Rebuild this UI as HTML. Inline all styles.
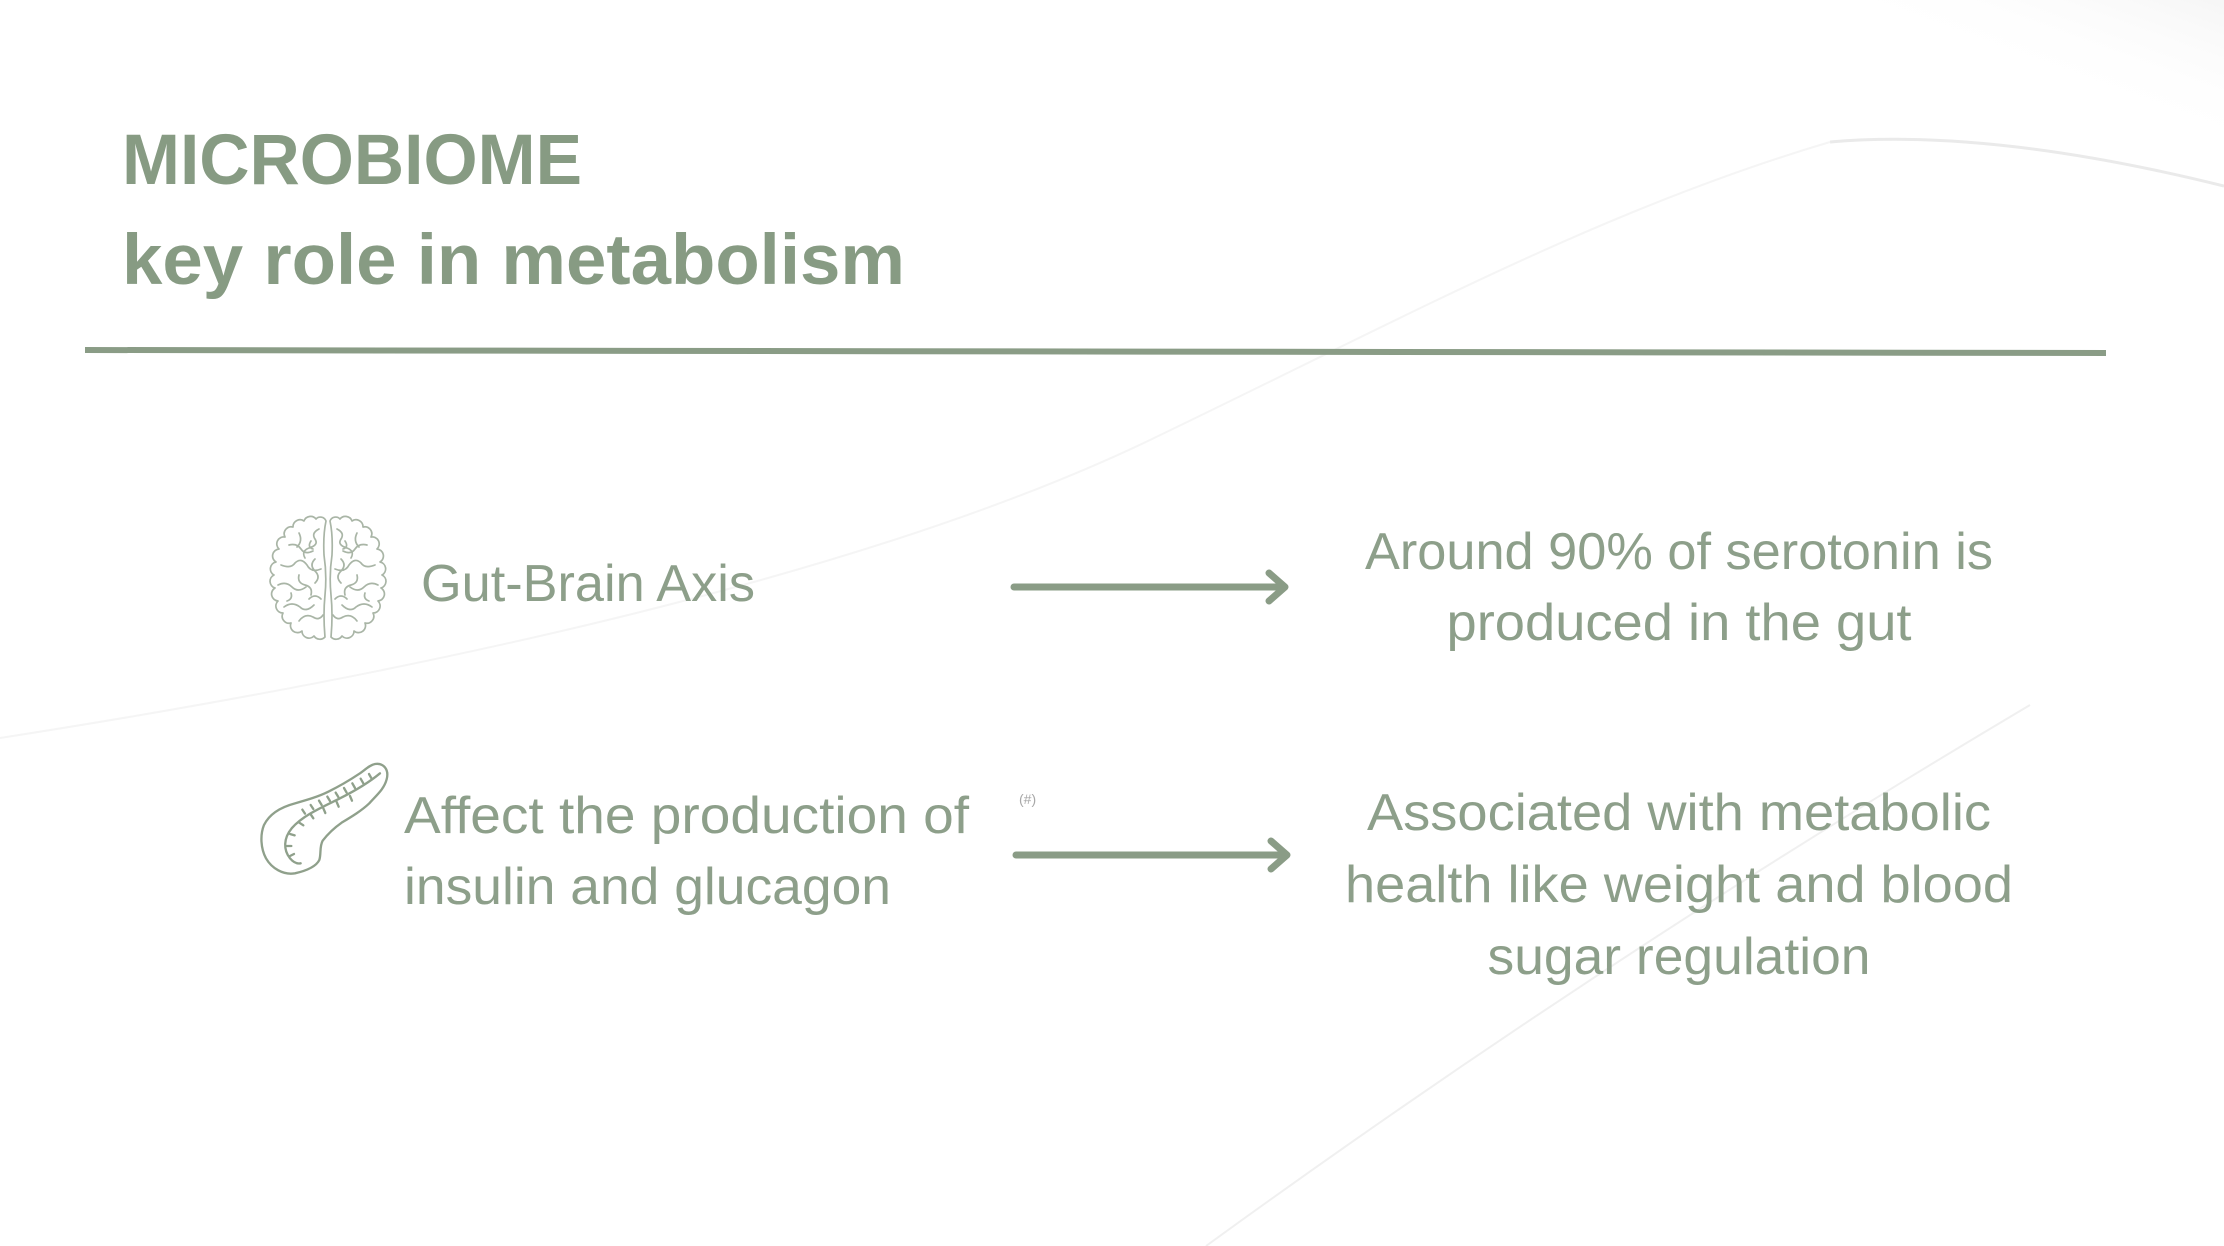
<!DOCTYPE html>
<html>
<head>
<meta charset="utf-8">
<style>
  html,body{margin:0;padding:0;background:#ffffff;}
  body{width:2224px;height:1246px;overflow:hidden;}
  svg{display:block;}
</style>
</head>
<body>
<svg width="2224" height="1246" viewBox="0 0 2224 1246" xmlns="http://www.w3.org/2000/svg">
  <defs>
    <linearGradient id="corner" x1="1" y1="0" x2="0.6" y2="0.4">
      <stop offset="0" stop-color="#ececec"/>
      <stop offset="1" stop-color="#ffffff" stop-opacity="0"/>
    </linearGradient>
    <g id="hemi" fill="none" stroke="#a9b5a6" stroke-width="1.7" stroke-linecap="round" stroke-linejoin="round">
      <path d="M55,6 A6,6 0 0 0 45,4 A7,7 0 0 0 33,6 A7,7 0 0 0 22,12 A7,7 0 0 0 14,22 A7,7 0 0 0 8,34 A7,7 0 0 0 5,47 A7,7 0 0 0 3,60 A7,7 0 0 0 4,73 A7,7 0 0 0 7,86 A7,7 0 0 0 12,98 A7,7 0 0 0 20,108 A7,7 0 0 0 31,116 A7,7 0 0 0 43,121 A7,7 0 0 0 54,122 Q52,100 54,80 Q56,60 53,40 Q52,20 55,6 Z"/>
      <path d="M48,14 q-8,4 -4,10 q4,6 -6,9 q-8,3 -4,10"/>
      <path d="M18,30 q8,-2 12,4 q4,6 12,2"/>
      <path d="M10,50 q10,4 14,-2 q6,-6 12,2 q4,8 14,4"/>
      <path d="M7,70 q8,-4 14,2 q6,6 14,0"/>
      <path d="M28,60 q-2,8 6,10 q8,2 6,10"/>
      <path d="M13,92 q8,-6 16,0 q6,6 14,-2"/>
      <path d="M28,106 q6,-8 14,-4 q6,4 10,-2"/>
      <path d="M38,84 q6,-6 12,0"/>
      <path d="M44,44 q-6,6 0,12 q6,6 0,12"/>
      <path d="M28,18 q4,8 -2,14"/>
      <path d="M20,78 q2,6 -4,8"/>
      <path d="M40,26 q-4,6 2,8"/>
    </g>
  </defs>

  <!-- faint background decoration -->
  <path d="M1700,0 L2224,0 L2224,190 Q2050,120 1820,150 Q1760,60 1700,0 Z" fill="url(#corner)" opacity="0.5"/>
  <path d="M1830,142 Q1990,128 2224,186" fill="none" stroke="#eaeaea" stroke-width="3"/>
  <path d="M0,738 C500,660 900,560 1150,440 C1400,320 1600,210 1830,142" fill="none" stroke="#f5f5f5" stroke-width="2"/>
  <path d="M1206,1246 Q1600,960 2030,705" fill="none" stroke="#f0f0f0" stroke-width="2"/>

  <!-- Title -->
  <text x="122" y="184" font-family="'Liberation Sans', sans-serif" font-weight="bold" font-size="71" fill="#879b83" textLength="460" lengthAdjust="spacingAndGlyphs">MICROBIOME</text>
  <text x="122" y="284" font-family="'Liberation Sans', sans-serif" font-weight="bold" font-size="71" fill="#879b83" textLength="783" lengthAdjust="spacingAndGlyphs">key role in metabolism</text>

  <!-- rule -->
  <line x1="85" y1="350" x2="2106" y2="353" stroke="#8a9c86" stroke-width="6"/>

  <!-- Brain icon -->
  <g transform="translate(271,515)">
    <use href="#hemi"/>
    <use href="#hemi" transform="translate(114,0) scale(-1,1)"/>
  </g>

  <!-- Pancreas icon -->
  <g transform="translate(240,750) scale(0.3333)" fill="none" stroke="#8fa08b" stroke-width="7" stroke-linecap="round" stroke-linejoin="round">
    <path d="M405,42 C430,38 448,58 440,88 C432,118 410,135 388,160 C365,182 335,200 305,218 C285,232 265,250 248,272 C238,290 244,312 238,330 C228,350 200,362 165,370 C130,376 95,355 78,325 C62,295 60,255 72,225 C88,192 120,172 165,160 C200,150 235,140 265,125 C300,108 330,90 360,70 C378,57 390,45 405,42 Z"/>
    <path d="M420,70 C390,95 350,120 300,145 C250,170 190,195 155,235 C130,265 130,300 150,325 C160,337 172,342 182,340"/>
    <path d="M395,86 l-8,-14 M370,100 l-8,-14 M345,114 l-8,-14 M320,128 l-8,-14 M295,141 l-8,-13 M270,153 l-8,-13 M245,165 l-8,-13 M220,177 l-8,-12 M195,191 l-8,-12"/>
    <path d="M330,138 l6,14 M290,156 l6,14 M250,175 l6,14 M212,193 l8,12 M178,218 l12,8 M150,252 l14,4 M140,288 l14,0 M150,318 l12,-6"/>
  </g>

  <!-- Left texts -->
  <text x="421" y="601" font-family="'Liberation Sans', sans-serif" font-size="52" fill="#8d9f8a" textLength="334" lengthAdjust="spacingAndGlyphs">Gut-Brain Axis</text>
  <text x="404" y="833" font-family="'Liberation Sans', sans-serif" font-size="52" fill="#8d9f8a" textLength="565" lengthAdjust="spacingAndGlyphs">Affect the production of</text>
  <text x="404" y="904" font-family="'Liberation Sans', sans-serif" font-size="52" fill="#8d9f8a" textLength="487" lengthAdjust="spacingAndGlyphs">insulin and glucagon</text>

  <!-- footnote marker -->
  <text x="1019" y="804" font-family="'Liberation Sans', sans-serif" font-size="14" fill="#a8a8a8">(#)</text>

  <!-- Arrows -->
  <g stroke="#8a9c86" stroke-width="7" fill="none" stroke-linecap="round" stroke-linejoin="round">
    <line x1="1014" y1="587" x2="1282" y2="587"/>
    <polyline points="1269,573 1285,587 1269,601"/>
    <line x1="1016" y1="855" x2="1284" y2="855"/>
    <polyline points="1271,841 1287,855 1271,869"/>
  </g>

  <!-- Right texts -->
  <g font-family="'Liberation Sans', sans-serif" font-size="52" fill="#8d9f8a" text-anchor="middle">
    <text x="1679" y="569" textLength="628" lengthAdjust="spacingAndGlyphs">Around 90% of serotonin is</text>
    <text x="1679" y="640" textLength="465" lengthAdjust="spacingAndGlyphs">produced in the gut</text>
    <text x="1679" y="830" textLength="624" lengthAdjust="spacingAndGlyphs">Associated with metabolic</text>
    <text x="1679" y="902" textLength="668" lengthAdjust="spacingAndGlyphs">health like weight and blood</text>
    <text x="1679" y="974" textLength="383" lengthAdjust="spacingAndGlyphs">sugar regulation</text>
  </g>
</svg>
</body>
</html>
